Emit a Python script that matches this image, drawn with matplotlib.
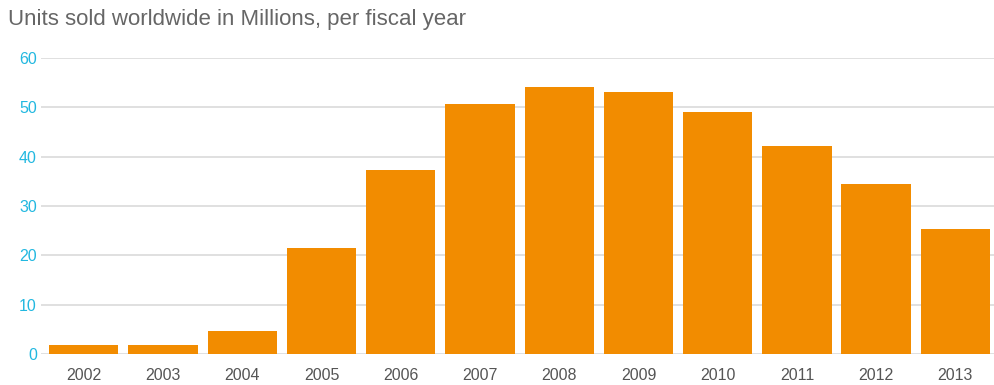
import matplotlib
matplotlib.use("Agg")
import matplotlib.pyplot as plt

# Units sold per fiscal year (millions)
years = ["2002", "2003", "2004", "2005", "2006", "2007",
         "2008", "2009", "2010", "2011", "2012", "2013"]
units = [1.9, 1.9, 4.7, 21.5, 37.3, 50.7, 54.2, 53.1, 49.1, 42.2, 34.5, 25.4]
y_ticks = [0, 10, 20, 30, 40, 50, 60]

BAR_COLOR = "#f28c00"
GRID_COLOR = "#dadada"
TICK_Y_COLOR = "#22b8e0"
TEXT_COLOR = "#666666"

plt.rcParams["font.family"] = ["Liberation Sans", "DejaVu Sans"]

W, H = 995, 385
fig = plt.figure(figsize=(W / 100, H / 100), dpi=100)
ax = fig.add_axes([41 / W, 31 / H, (995 - 41) / W, (354 - 58) / H])

x = range(len(years))
ax.bar(x, units, width=0.875, color=BAR_COLOR, zorder=3)

ax.set_xlim(-0.54, len(years) - 0.5)
ax.set_ylim(0, 60)
ax.set_yticks(y_ticks)
ax.set_yticklabels([str(t) for t in y_ticks])
ax.set_xticks(list(x))
ax.set_xticklabels(years)

ax.grid(axis="y", color=GRID_COLOR, linewidth=1.2, zorder=0)
for s in ax.spines.values():
    s.set_visible(False)
ax.tick_params(axis="y", length=0, pad=3, labelsize=11.5, labelcolor=TICK_Y_COLOR)
ax.tick_params(axis="x", length=0, pad=10, labelsize=11.5, labelcolor="#555555")

fig.text(8 / W, 1 - 19 / H, "Units sold worldwide in Millions, per fiscal year",
         ha="left", va="center", fontsize=16, color=TEXT_COLOR)

fig.savefig("out.png", dpi=100)
